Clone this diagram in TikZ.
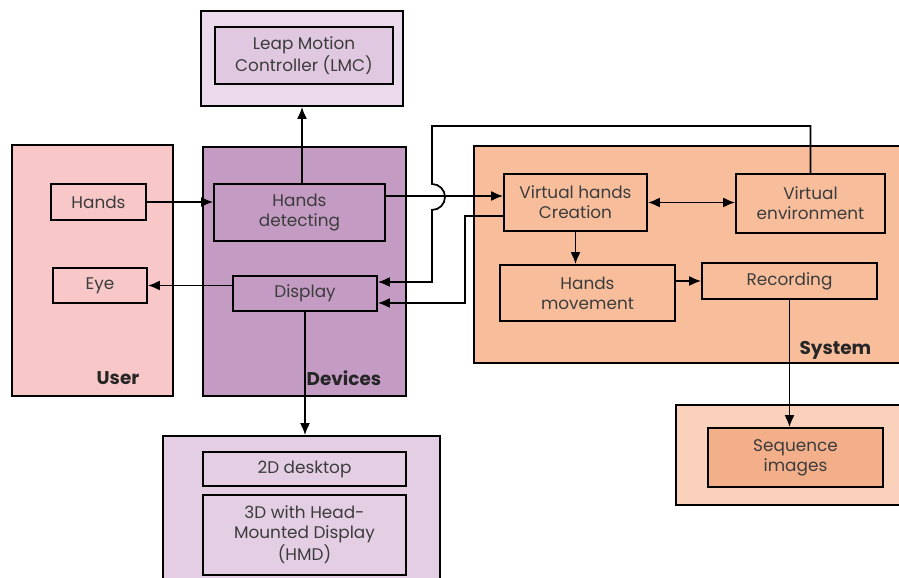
\documentclass[tikz,border=0pt]{standalone}
\usepackage{fontspec}
\setmainfont{Poppins}
\usetikzlibrary{arrows.meta}
\tikzset{>={Latex[length=2.4mm, width=2mm]}}
\definecolor{lmcLight}{RGB}{235,218,235}
\definecolor{lmcDark}{RGB}{224,200,224}
\definecolor{userPink}{RGB}{248,200,200}
\definecolor{devPurple}{RGB}{195,155,195}
\definecolor{dispLight}{RGB}{228,206,228}
\definecolor{sysOrange}{RGB}{248,190,156}
\definecolor{seqLight}{RGB}{250,210,188}
\definecolor{seqDark}{RGB}{242,175,138}
\definecolor{textGrey}{RGB}{60,60,60}
\tikzstyle{group} = [rectangle, draw = black, line width = 1pt, inner sep = 0pt]
\tikzstyle{item} = [rectangle, draw = black, line width = 1pt, text centered, align = center, text = textGrey, font = \fontsize{9.6}{11.3}\selectfont, inner sep = 0pt]
\tikzstyle{tag} = [anchor = base east, text = black!85, font = \bfseries\fontsize{10.5}{12}\selectfont]

\begin{document}
\begin{tikzpicture}[line width = 1pt]
    \useasboundingbox (0,0) rectangle (17.98,-11.56);
    \clip (0,0) rectangle (17.98,-11.56);
    % outer groups
    \node (lmcBox) [group, fill = lmcLight, minimum width = 4.04cm, minimum height = 1.9cm] at (6.04,-1.17) {};
    \node (userBox) [group, fill = userPink, minimum width = 3.22cm, minimum height = 5.02cm] at (1.85,-5.41) {};
    \node (devBox) [group, fill = devPurple, minimum width = 4.06cm, minimum height = 4.98cm] at (6.09,-5.43) {};
    \node (dispBox) [group, fill = dispLight, minimum width = 5.54cm, minimum height = 3.08cm] at (6.03,-10.26) {};
    \node (sysBox) [group, fill = sysOrange, minimum width = 8.72cm, minimum height = 4.34cm] at (13.84,-5.09) {};
    \node (seqBox) [group, fill = seqLight, minimum width = 4.68cm, minimum height = 2cm] at (15.86,-9.1) {};
    % inner blocks
    \node (lmc) [item, fill = lmcDark, minimum width = 3.56cm, minimum height = 1.14cm] at (6.08,-1.11) {Leap Motion\\Controller (LMC)};
    \node (hands) [item, minimum width = 1.9cm, minimum height = 0.72cm] at (1.97,-4.04) {Hands};
    \node (eye) [item, minimum width = 1.88cm, minimum height = 0.7cm] at (2,-5.71) {Eye};
    \node (handsDet) [item, minimum width = 3.42cm, minimum height = 1.14cm] at (5.99,-4.25) {Hands\\detecting};
    \node (display) [item, minimum width = 2.88cm, minimum height = 0.7cm] at (6.1,-5.87) {Display};
    \node (desk) [item, minimum width = 4.06cm, minimum height = 0.68cm] at (6.09,-9.38) {2D desktop};
    \node (hmd) [item, minimum width = 4.06cm, minimum height = 1.6cm] at (6.09,-10.7) {3D with Head-\\Mounted Display\\(HMD)};
    \node (virtHands) [item, minimum width = 2.86cm, minimum height = 1.14cm] at (11.51,-4.05) {Virtual hands\\Creation};
    \node (virtEnv) [item, minimum width = 2.98cm, minimum height = 1.18cm] at (16.21,-4.07) {Virtual\\environment};
    \node (handsMov) [item, minimum width = 3.5cm, minimum height = 1.12cm] at (11.75,-5.86) {Hands\\movement};
    \node (rec) [item, minimum width = 3.5cm, minimum height = 0.72cm] at (15.79,-5.62) {Recording};
    \node (seq) [item, fill = seqDark, minimum width = 3.5cm, minimum height = 1.18cm] at (15.91,-9.15) {Sequence\\images};
    % group labels
    \node (userTag) [tag] at (2.92,-7.7) {User};
    \node (devTag) [tag] at (7.76,-7.72) {Devices};
    \node (sysTag) [tag] at (17.56,-7.1) {System};
    % connectors
    \draw [->] (handsDet.north -| lmcBox.south) -- (lmcBox.south);
    \draw [->] (hands.east) -- (hands.east -| handsDet.west);
    \draw [->] ([yshift = 0.33cm]handsDet.east) -- ([yshift = 0.33cm]handsDet.east -| virtHands.west);
    \draw [->] (virtEnv.north) -- (virtEnv.north |- 0,-2.52) -- (8.64,-2.52) -- (8.64,-3.68)
        arc [start angle = 90, end angle = -90, radius = 0.26] -- (8.64,-5.64) -- ([yshift = 0.23cm]display.east);
    \draw [->] ([yshift = -0.27cm]virtHands.west) -- ++(-0.76,0) |- ([yshift = -0.19cm]display.east);
    \draw [->] (display.west |- eye.east) -- (eye.east);
    \draw [->] (display.south) -- (display.south |- dispBox.north);
    \draw [<->] (virtHands.east) -- (virtHands.east -| virtEnv.west);
    \draw [->] (virtHands.south) -- (virtHands.south |- handsMov.north);
    \draw [->] (rec.west -| handsMov.east) -- (rec.west);
    \draw [->] (rec.south) -- (rec.south |- seq.north);
\end{tikzpicture}
\end{document}
